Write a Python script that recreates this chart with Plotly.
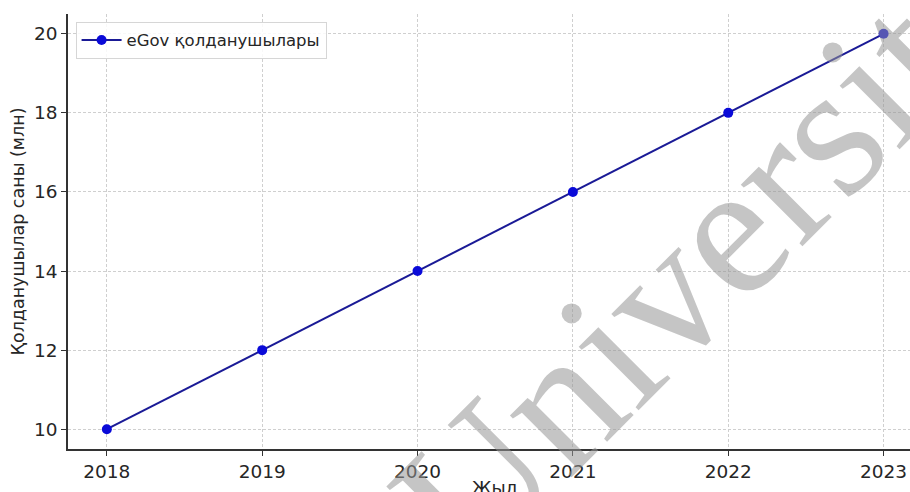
import plotly.graph_objects as go

years = [2018, 2019, 2020, 2021, 2022, 2023]
users_mln = [10, 12, 14, 16, 18, 20]
series_name = "eGov қолданушылары"
x_title = "Жыл"
y_title = "Қолданушылар саны (млн)"
watermark = "University"

fig = go.Figure()
fig.add_trace(go.Scatter(
    x=years, y=users_mln, mode="lines+markers", name=series_name,
    line=dict(color="#1a1a96", width=2),
    marker=dict(color="#0a0ad8", size=10),
))

font_family = "DejaVu Sans"
fig.update_layout(
    width=910, height=492,
    margin=dict(l=68, r=0, t=14, b=43),
    paper_bgcolor="white", plot_bgcolor="white",
    font=dict(family=font_family, size=18.5, color="#262626"),
    showlegend=True,
    legend=dict(x=0.009, y=0.982, xanchor="left", yanchor="top", itemwidth=40,
                bgcolor="rgba(255,255,255,0.85)", bordercolor="#d6d6d6", borderwidth=1,
                font=dict(size=16.5, color="#262626")),
    xaxis=dict(range=[2017.75, 2023.17], tickmode="array", tickvals=years,
               showline=True, linecolor="#333333", linewidth=1.5,
               ticks="outside", ticklen=5, tickcolor="#333333",
               showgrid=True, gridcolor="#cfcfcf", griddash="3px,2px", gridwidth=1,
               zeroline=False),
    yaxis=dict(range=[9.5, 20.5], dtick=2, tick0=10,
               showline=True, linecolor="#333333", linewidth=1.5,
               ticks="outside", ticklen=5, tickcolor="#333333",
               showgrid=True, gridcolor="#cfcfcf", griddash="3px,2px", gridwidth=1,
               zeroline=False),
)

fig.add_annotation(text=y_title, xref="paper", yref="paper", x=-0.0594, y=0.5,
                   textangle=-90, showarrow=False, xanchor="center", yanchor="middle",
                   font=dict(size=17.5, color="#262626"))
fig.add_annotation(text=x_title, xref="paper", yref="paper", x=0.507, y=-0.088,
                   showarrow=False, xanchor="center", yanchor="middle",
                   font=dict(size=18, color="#262626"))
fig.add_annotation(text=watermark, xref="paper", yref="paper", x=0.763, y=0.461,
                   textangle=-45, showarrow=False, xanchor="center", yanchor="middle",
                   font=dict(family="Liberation Serif", size=190, color="rgba(150,150,150,0.55)"))

fig.write_html(
    "out.html",
    config={"displayModeBar": False},
    post_script="document.body.style.margin='0';document.body.style.overflow='hidden';",
)
